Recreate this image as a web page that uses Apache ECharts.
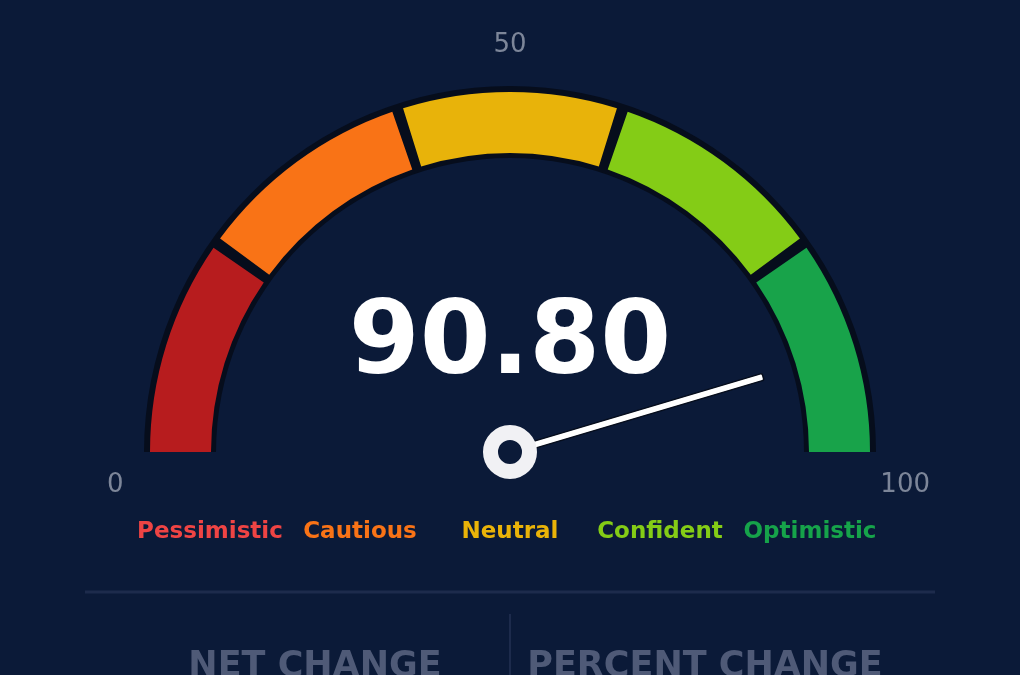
<!DOCTYPE html>
<html>
<head>
<meta charset="utf-8">
<style>
  html, body { margin: 0; padding: 0; background: #0b1a38; }
  #chart { width: 1020px; height: 675px; }
</style>
<script src="https://cdn.jsdelivr.net/npm/echarts@6/dist/echarts.min.js"></script>
</head>
<body>
<div id="chart"></div>
<script>
// sentiment bands
const bandNames = ["Pessimistic", "Cautious", "Neutral", "Confident", "Optimistic"];
const bandValues = [20, 20, 20, 20, 20];
const bandColors = ["#b71c1e", "#f97316", "#e8b30a", "#84cc16", "#18a34a"];
const labelColors = ["#ef4444", "#f97316", "#eab308", "#84cc16", "#16a34a"];
const tickLabels = [0, 50, 100];
const gaugeValue = 90.8;
const footerTitles = ["NET CHANGE", "PERCENT CHANGE"];

const BG = "#0b1a38";
const EDGE = "#060d1c";
const FONT = "DejaVu Sans, sans-serif";
const center = [510, 452];
const GAP = 1.8; // degrees between bands

const chart = echarts.init(document.getElementById("chart"), null, { renderer: "canvas" });

const option = {
  backgroundColor: BG,
  animation: false,
  grid: { left: 135, right: 135, top: 480, height: 30 },
  xAxis: {
    type: "category",
    data: bandNames,
    axisLine: { show: false },
    axisTick: { show: false },
    splitLine: { show: false },
    axisLabel: {
      interval: 0,
      margin: 11,
      fontSize: 23,
      fontWeight: "bold",
      fontFamily: FONT,
      color: (v) => labelColors[bandNames.indexOf(v)],
    },
  },
  yAxis: { type: "value", show: false },
  series: [
    {
      // dark backing ring, shows through the gaps
      type: "pie",
      center: center,
      radius: [294, 366],
      startAngle: 180,
      endAngle: 0,
      silent: true,
      label: { show: false },
      labelLine: { show: false },
      itemStyle: { color: EDGE },
      data: [{ name: "track", value: bandValues.reduce((a, b) => a + b, 0) }],
    },
    {
      type: "pie",
      center: center,
      radius: [299, 360],
      startAngle: 180 + GAP / 2,
      endAngle: -GAP / 2,
      padAngle: GAP,
      silent: true,
      label: { show: false },
      labelLine: { show: false },
      data: bandNames.map((n, i) => ({
        name: n,
        value: bandValues[i],
        itemStyle: { color: bandColors[i] },
      })),
    },
    {
      type: "gauge",
      center: center,
      radius: 363,
      startAngle: 180,
      endAngle: 0,
      min: 0,
      max: 100,
      splitNumber: 2,
      axisLine: { show: false, lineStyle: { width: 0 } },
      axisTick: { show: false },
      splitLine: { show: false, length: 0, distance: 0 },
      axisLabel: {
        distance: -57,
        color: "#7d8699",
        fontSize: 26,
        fontFamily: FONT,
        formatter: (v) => {
          const k = tickLabels.indexOf(v);
          if (k < 0) return "";
          return ["{l|", "{t|", "{r|"][k] + v + "}";
        },
        rich: {
          l: { fontSize: 26, color: "#7d8699", fontFamily: FONT, padding: [66, 0, 0, 17] },
          t: { fontSize: 26, color: "#7d8699", fontFamily: FONT },
          r: { fontSize: 26, color: "#7d8699", fontFamily: FONT, padding: [66, 0, 0, 0] },
        },
      },
      pointer: {
        icon: "roundRect",
        length: 264,
        width: 7,
        itemStyle: { color: "#ffffff", borderColor: EDGE, borderWidth: 1.5 },
      },
      anchor: {
        show: true,
        showAbove: true,
        size: 39,
        itemStyle: { color: BG, borderColor: "#f1f1f4", borderWidth: 15 },
      },
      title: { show: false },
      detail: {
        valueAnimation: false,
        offsetCenter: [0, -106],
        color: "#ffffff",
        fontSize: 102,
        fontWeight: "bold",
        fontFamily: FONT,
        formatter: (v) => v.toFixed(2),
      },
      data: [{ value: gaugeValue }],
    },
  ],
  graphic: [
    {
      type: "line",
      shape: { x1: 85, y1: 592, x2: 935, y2: 592 },
      style: { stroke: "#1d2b4c", lineWidth: 3 },
      silent: true,
    },
    {
      type: "line",
      shape: { x1: 510, y1: 614, x2: 510, y2: 680 },
      style: { stroke: "#1d2b4c", lineWidth: 2 },
      silent: true,
    },
    {
      type: "text",
      x: 315,
      y: 649,
      style: {
        text: footerTitles[0],
        fill: "#4f5a77",
        font: "bold 35px " + FONT,
        textAlign: "center",
        textVerticalAlign: "top",
      },
      silent: true,
    },
    {
      type: "text",
      x: 705,
      y: 649,
      style: {
        text: footerTitles[1],
        fill: "#4f5a77",
        font: "bold 35px " + FONT,
        textAlign: "center",
        textVerticalAlign: "top",
      },
      silent: true,
    },
  ],
};

chart.setOption(option);
</script>
</body>
</html>
